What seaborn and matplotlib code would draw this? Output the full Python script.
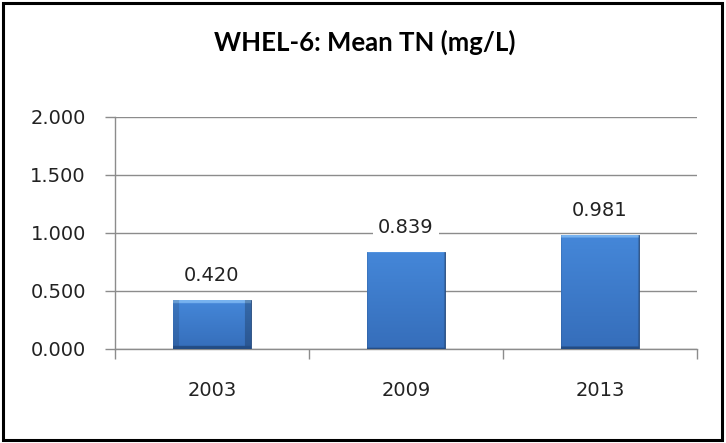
import numpy as np
import pandas as pd
import seaborn as sns
import matplotlib
matplotlib.use("Agg")
import matplotlib.pyplot as plt
from matplotlib.patches import Rectangle

years = ["2003", "2009", "2013"]
mean_tn = [0.420, 0.839, 0.981]
y_ticks = [0.0, 0.5, 1.0, 1.5, 2.0]
title = "WHEL-6: Mean TN (mg/L)"

sns.set_theme(style="white")
plt.rcParams["font.family"] = ["DejaVu Sans"]

df = pd.DataFrame({"year": years, "tn": mean_tn})

fig = plt.figure(figsize=(7.26, 4.43), dpi=100)
ax = fig.add_axes([0.1584, 0.2122, 0.8016, 0.5237])

sns.barplot(data=df, x="year", y="tn", ax=ax, color="#3C78C5",
            width=0.4, saturation=1, zorder=3)

# bevelled fill, like the spreadsheet's 3-D bars
def bevel_image(w, h, edge=6):
    img = np.zeros((h, w, 3))
    body_top = np.array([0.27, 0.53, 0.85])
    body_bot = np.array([0.21, 0.43, 0.73])
    t = np.linspace(0, 1, h)[:, None, None]
    img[:] = body_top * (1 - t) + body_bot * t
    img[:edge, :, :] = [0.47, 0.70, 0.94]
    img[:, :edge, :] = img[:, :edge, :] * 0.88
    img[:, -edge:, :] = img[:, -edge:, :] * 0.78
    img[-edge:, :, :] = [0.14, 0.30, 0.52]
    return np.clip(img, 0, 1)

fig.canvas.draw()
for bar in ax.patches:
    x0, w, hgt = bar.get_x(), bar.get_width(), bar.get_height()
    bb = bar.get_window_extent()
    img = bevel_image(max(int(bb.width), 12), max(int(bb.height), 12))
    im = ax.imshow(img, extent=(x0, x0 + w, 0, hgt), aspect="auto",
                   zorder=3.5, interpolation="bilinear")
    im.set_clip_path(bar)
    bar.set_edgecolor("#24487a")
    bar.set_linewidth(0.6)

for i, v in enumerate(mean_tn):
    ax.text(i, v + 0.21, f"{v:.3f}", ha="center", va="center",
            fontsize=14, color="#222222", zorder=5,
            bbox=dict(boxstyle="square,pad=0.25", fc="white", ec="none"))

ax.set_ylim(0, 2)
ax.set_xlim(-0.5, 2.5)
ax.set_yticks(y_ticks)
ax.set_yticklabels([f"{t:.3f}" for t in y_ticks])
ax.yaxis.grid(True, color="#8c8c8c", linewidth=1.0, zorder=0)
ax.set_axisbelow(True)

# category ticks sit between the groups
ax.set_xticks([0, 1, 2])
ax.set_xticks([-0.5, 0.5, 1.5, 2.5], minor=True)
ax.tick_params(axis="x", which="major", length=0, pad=23,
               labelsize=14, labelcolor="#222222")
ax.tick_params(axis="x", which="minor", length=7, width=1,
               color="#8c8c8c", direction="out", bottom=True)
ax.tick_params(axis="y", length=7, width=1, color="#8c8c8c",
               direction="out", left=True, pad=14,
               labelsize=14, labelcolor="#222222")
ax.set_xlabel("")
ax.set_ylabel("")

for side in ["top", "right"]:
    ax.spines[side].set_visible(False)
for side in ["left", "bottom"]:
    ax.spines[side].set_color("#8c8c8c")
    ax.spines[side].set_linewidth(1.0)

fig.text(0.502, 0.905, title, ha="center", va="center",
         fontsize=18.5, fontweight="bold", color="black",
         family=["Lato", "DejaVu Sans"])

fig.patches.append(Rectangle((0.004, 0.006), 0.991, 0.987,
                             transform=fig.transFigure, fill=False,
                             edgecolor="black", linewidth=2.2))

fig.savefig("out.png", dpi=100)
